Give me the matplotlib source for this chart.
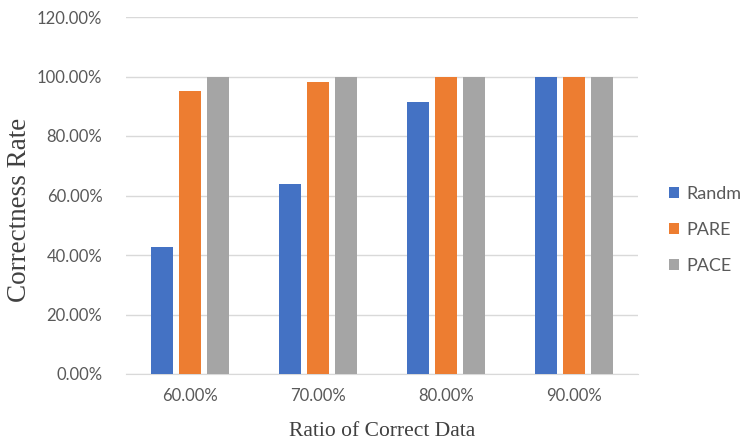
import numpy as np
import matplotlib.pyplot as plt
from matplotlib import rcParams
from matplotlib.ticker import PercentFormatter

rcParams['font.family'] = 'sans-serif'
rcParams['font.sans-serif'] = ['Lato']

categories = ['60.00%', '70.00%', '80.00%', '90.00%']
randm = [42.7, 64.0, 91.3, 100.0]
pare = [95.1, 98.2, 100.0, 100.0]
pace = [100.0, 100.0, 100.0, 100.0]

series = [('Randm', randm, '#4472C4'), ('PARE', pare, '#ED7D31'), ('PACE', pace, '#A5A5A5')]

fig = plt.figure(figsize=(7.44, 4.43), dpi=100)
ax = fig.add_axes([126 / 744, 1 - 374 / 443, 512 / 744, (374 - 17) / 443])

x = np.arange(len(categories))
width = 0.172
step = 0.222
for i, (name, vals, col) in enumerate(series):
    ax.bar(x + (i - 1) * step, vals, width, color=col, label=name, zorder=3)

ax.set_xlim(-0.5, len(categories) - 0.5)
ax.set_ylim(0, 120)
ax.set_yticks(np.arange(0, 121, 20))
ax.yaxis.set_major_formatter(PercentFormatter(decimals=2))
ax.set_xticks(x)
ax.set_xticklabels(categories)
ax.grid(axis='y', color='#D9D9D9', linewidth=1, zorder=0)
for s in ['top', 'right', 'left']:
    ax.spines[s].set_visible(False)
ax.spines['bottom'].set_color('#D9D9D9')
ax.tick_params(axis='both', length=0, labelsize=12, labelcolor='#595959', pad=10)
ax.tick_params(axis='y', pad=17)

ax.set_xlabel('Ratio of Correct Data', fontsize=15.5, family='Liberation Serif', color='#404040', labelpad=13)
ax.set_ylabel('Correctness Rate', fontsize=19.5, family='Liberation Serif', color='#404040')
ax.yaxis.set_label_coords(-0.183, 0.46)

leg = ax.legend(loc='center left', bbox_to_anchor=(1.047, 0.403), frameon=False, fontsize=13,
                handlelength=0.55, handleheight=0.55, handletextpad=0.4, labelspacing=1.1,
                borderaxespad=0)
for t in leg.get_texts():
    t.set_color('#595959')

plt.savefig('out.png', dpi=100, facecolor='w')
